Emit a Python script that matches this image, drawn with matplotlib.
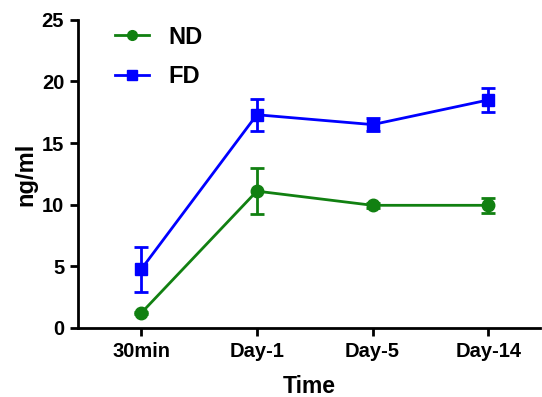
import numpy as np
import matplotlib.pyplot as plt
from matplotlib.lines import Line2D

plt.rcParams['font.family'] = ['Liberation Sans', 'DejaVu Sans']
plt.rcParams['font.weight'] = 'bold'

times = ['30min', 'Day-1', 'Day-5', 'Day-14']
nd_mean = [1.2, 11.1, 9.95, 9.95]
nd_err = [0.1, 1.85, 0.2, 0.6]
fd_mean = [4.75, 17.3, 16.5, 18.5]
fd_err = [1.8, 1.3, 0.5, 1.0]

nd_color = '#118011'
fd_color = '#0000ff'

fig = plt.figure(figsize=(5.42, 3.97), dpi=100)
ax = fig.add_axes([0.144, 0.174, 0.853, 0.776])

x = np.arange(len(times))
ax.errorbar(x, nd_mean, yerr=nd_err, color=nd_color, marker='o', markersize=9,
            lw=2, elinewidth=2, capsize=5, capthick=2)
ax.errorbar(x, fd_mean, yerr=fd_err, color=fd_color, marker='s', markersize=9,
            lw=2, elinewidth=2, capsize=5, capthick=2)

ax.set_xlim(-0.545, 3.45)
ax.set_ylim(0, 25)
ax.set_yticks([0, 5, 10, 15, 20, 25])
ax.set_xticks(x)
ax.set_xticklabels(times)

for s in ['top', 'right']:
    ax.spines[s].set_visible(False)
for s in ['left', 'bottom']:
    ax.spines[s].set_linewidth(2)
ax.tick_params(width=2, length=6, labelsize=14.5, direction='out', pad=4)

ax.set_xlabel('Time', fontsize=16.5, fontweight='bold', labelpad=10)
ax.set_ylabel('ng/ml', fontsize=17, fontweight='bold', labelpad=3)

handles = [Line2D([], [], color=nd_color, marker='o', markersize=7, lw=2),
           Line2D([], [], color=fd_color, marker='s', markersize=7, lw=2)]
ax.legend(handles, ['ND', 'FD'], loc='upper left', bbox_to_anchor=(0.035, 1.05),
          frameon=False, fontsize=17, handlelength=1.4, handletextpad=0.85,
          labelspacing=0.7)

fig.savefig('out.png', dpi=100)
